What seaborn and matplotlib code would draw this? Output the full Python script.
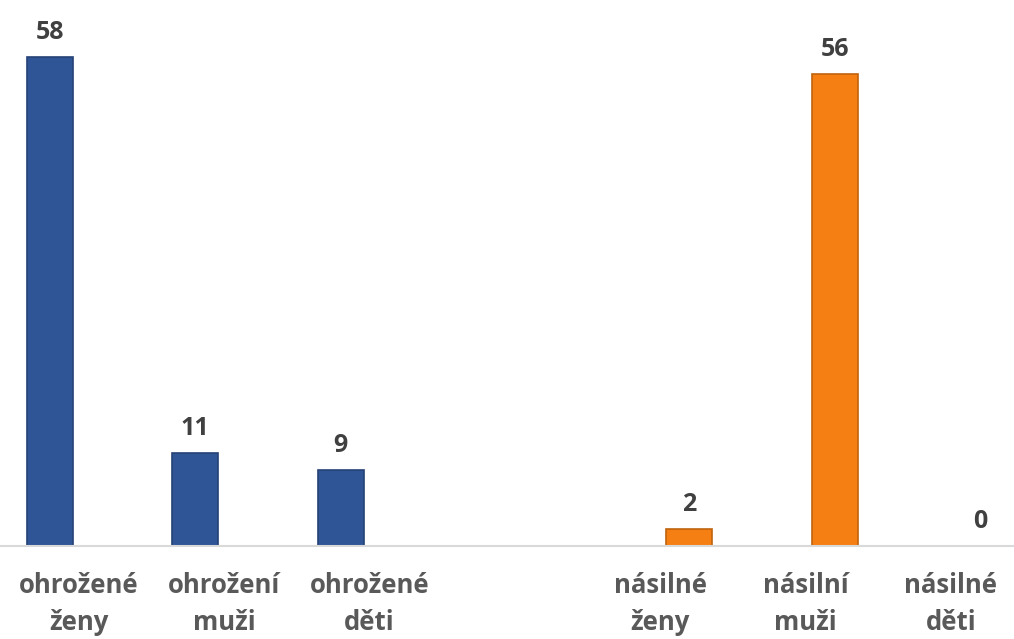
import matplotlib.pyplot as plt
import pandas as pd
import seaborn as sns

# category order on the axis; the blank one separates the two groups
CATEGORIES = ["ohrožené\nženy", "ohrožení\nmuži", "ohrožené\nděti", " ",
              "násilné\nženy", "násilní\nmuži", "násilné\nděti"]

THREATENED_CATS = ["ohrožené\nženy", "ohrožení\nmuži", "ohrožené\nděti"]
THREATENED = [58, 11, 9]
VIOLENT_CATS = ["násilné\nženy", "násilní\nmuži", "násilné\nděti"]
VIOLENT = [2, 56, 0]

sns.set_theme(style="white")
plt.rcParams["font.family"] = ["Open Sans", "DejaVu Sans"]

df = pd.concat([
    pd.DataFrame({"cat": THREATENED_CATS, "count": THREATENED, "series": "ohrožené"}),
    pd.DataFrame({"cat": VIOLENT_CATS, "count": VIOLENT, "series": "násilné"}),
])

fig = plt.figure(figsize=(10.14, 6.39), dpi=100)
ax = fig.add_axes([0, 0.1455, 1, 0.8545])

sns.barplot(data=df, x="cat", y="count", hue="series", order=CATEGORIES,
            hue_order=["ohrožené", "násilné"],
            palette={"ohrožené": "#2F5597", "násilné": "#F57F12"},
            saturation=1, width=0.8, gap=0.21, dodge=True, legend=False,
            ax=ax, edgecolor="none")

# darker rim, a hint of the bevel look
for bar in ax.patches:
    r, g, b, _ = bar.get_facecolor()
    bar.set_edgecolor((r * 0.78, g * 0.78, b * 0.78))
    bar.set_linewidth(1.2)

for cont in ax.containers:
    ax.bar_label(cont, padding=9, fontsize=18, fontweight="bold",
                 color="#404040")

ax.set_xlim(-0.544, 6.434)
ax.set_ylim(0, 64.8)
ax.tick_params(axis="x", length=0, pad=19)
for lab in ax.get_xticklabels():
    lab.set_fontsize(18.5)
    lab.set_fontweight("bold")
    lab.set_color("#595959")
    lab.set_linespacing(1.48)
ax.set_yticks([])
ax.set_xlabel("")
ax.set_ylabel("")

for side in ["top", "left", "right"]:
    ax.spines[side].set_visible(False)
ax.spines["bottom"].set_color("#D9D9D9")
ax.spines["bottom"].set_linewidth(1.5)

fig.savefig("out.png", dpi=100, facecolor="white")
